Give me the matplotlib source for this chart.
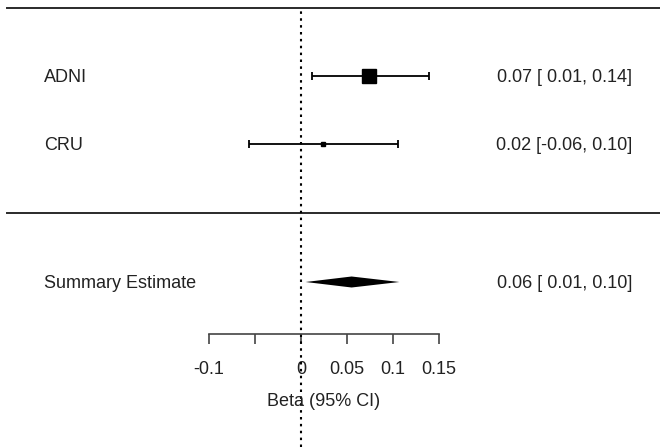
"""Forest plot: ADNI and CRU betas with summary estimate."""
import matplotlib
matplotlib.use('Agg')
import matplotlib.pyplot as plt
import matplotlib.transforms as mtransforms

plt.rcParams.update({
    'font.family': ['Liberation Sans', 'DejaVu Sans'],
    'font.size': 13,
    'text.color': '#222222',
    'xtick.color': '#444444',
    'xtick.labelcolor': '#222222',
})

# ====== data ======
studies = ['ADNI', 'CRU']
est = [0.074, 0.024]
ci_lo = [0.012, -0.056]
ci_hi = [0.139, 0.105]
study_text = ['0.07 [ 0.01, 0.14]', '0.02 [-0.06, 0.10]']

summary_label = 'Summary Estimate'
summary_est = 0.055
summary_lo = 0.005
summary_hi = 0.107
summary_text = '0.06 [ 0.01, 0.10]'

ticks = [-0.1, -0.05, 0, 0.05, 0.1, 0.15]
tick_labels = ['-0.1', '', '0', '0.05', '0.1', '0.15']
xlabel = 'Beta (95% CI)'

# ====== layout (pixel rows, y axis measured from top) ======
W, H = 660, 447
x0_px, px_per_unit = 301, 920
rows = [76, 144]
summary_row = 282
top_line, mid_line, axis_row = 8, 213, 334
square_sizes = [9.4, 2.4]

fig = plt.figure(figsize=(W / 100, H / 100), dpi=100)
ax = fig.add_axes([0, 0, 1, 1])
ax.set_xlim((0 - x0_px) / px_per_unit, (W - x0_px) / px_per_unit)
ax.set_ylim(H, 0)
ax.set_facecolor('white')

# separators
for yy in (top_line, mid_line):
    ax.axhline(yy, xmin=7 / W, xmax=1, color='#2a2a2a', lw=1.4)

# null line
ax.axvline(0, ymin=0, ymax=1 - top_line / H, color='black', lw=1.5,
           linestyle=(0, (1.2, 2.1)))

# study rows
for y, m, lo, hi, ms in zip(rows, est, ci_lo, ci_hi, square_sizes):
    ax.errorbar(m, y, xerr=[[m - lo], [hi - m]], fmt='none', ecolor='black',
                elinewidth=1.3, capsize=2.6, capthick=1.3)
    ax.plot(m, y, marker='s', ms=ms, color='black', mec='black')

# summary diamond
dh = 5.5
ax.fill([summary_lo, summary_est, summary_hi, summary_est],
        [summary_row, summary_row - dh, summary_row, summary_row + dh],
        color='black', lw=0)

# labels left / right
trans = mtransforms.blended_transform_factory(ax.transAxes, ax.transData)
for y, name, txt in zip(rows, studies, study_text):
    ax.text(44 / W, y, name, transform=trans, ha='left', va='center_baseline')
    ax.text(632 / W, y, txt, transform=trans, ha='right', va='center_baseline')
ax.text(44 / W, summary_row, summary_label, transform=trans, ha='left',
        va='center_baseline')
ax.text(632 / W, summary_row, summary_text, transform=trans, ha='right',
        va='center_baseline')

# x axis drawn as a floating bottom spine
for s in ('top', 'left', 'right'):
    ax.spines[s].set_visible(False)
ax.spines['bottom'].set_position(('data', axis_row))
ax.spines['bottom'].set_bounds(ticks[0], ticks[-1])
ax.spines['bottom'].set_color('#444444')
ax.spines['bottom'].set_linewidth(1.2)
ax.set_xticks(ticks)
ax.set_xticklabels(tick_labels)
ax.tick_params(axis='x', direction='out', length=7.2, width=1.2, pad=12)
ax.set_yticks([])

ax.text((ticks[0] + ticks[-1]) / 2, 400, xlabel, ha='center',
        va='center_baseline')

fig.savefig('out.png', dpi=100)
